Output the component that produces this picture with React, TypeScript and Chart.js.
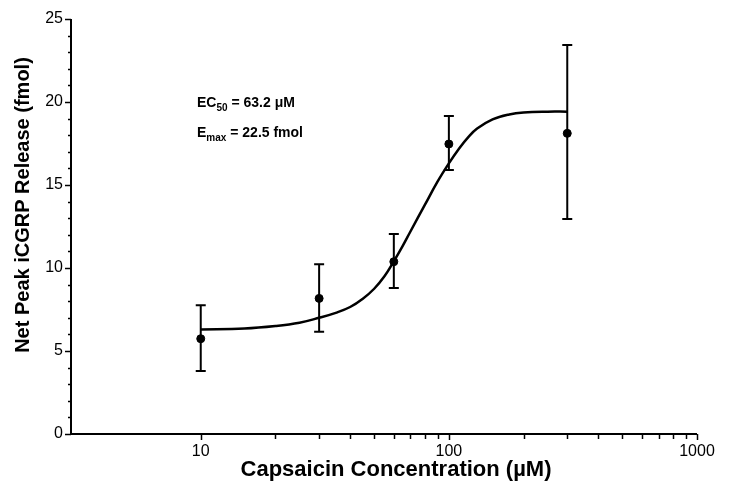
import React, { useEffect, useRef } from "react";
import { Chart, registerables } from "chart.js";

Chart.register(...registerables);

// Measured data (capsaicin concentration, µM)
const concentrations = [10, 30, 60, 100, 300];
const meanRelease = [5.74, 8.17, 10.38, 17.47, 18.11];
const upperError = [7.75, 10.22, 12.05, 19.16, 23.43];
const lowerError = [3.8, 6.16, 8.8, 15.9, 12.95];

// Fitted curve
const curveX = [10, 15, 20, 25, 30, 35, 40, 45, 50, 55, 60, 65, 70, 80, 90, 100, 110, 120, 130, 150, 175, 200, 250, 300];
const curveY = [6.3, 6.35, 6.5, 6.7, 7.0, 7.3, 7.65, 8.15, 8.75, 9.5, 10.4, 11.3, 12.2, 13.8, 15.2, 16.3, 17.2, 17.9, 18.4, 18.95, 19.25, 19.37, 19.42, 19.42];

const xMajorTicks = [10, 100, 1000];
const xMinorTicks = [20, 30, 40, 50, 60, 70, 80, 90, 200, 300, 400, 500, 600, 700, 800, 900];
const yMajorTicks = [0, 5, 10, 15, 20, 25];

const xTitle = "Capsaicin Concentration (\u00B5M)";
const yTitle = "Net Peak iCGRP Release (fmol)";

const FONT = '"Liberation Sans", Arial, Helvetica, sans-serif';

const drawPlugin = {
  id: "customDraw",
  beforeDatasetsDraw(chart: any) {
    const { ctx, scales } = chart;
    const x = scales.x;
    const y = scales.y;
    ctx.save();
    ctx.strokeStyle = "#000";
    ctx.lineWidth = 2;
    concentrations.forEach((c, i) => {
      const px = x.getPixelForValue(c);
      const top = y.getPixelForValue(upperError[i]);
      const bot = y.getPixelForValue(lowerError[i]);
      ctx.beginPath();
      ctx.moveTo(px, top);
      ctx.lineTo(px, bot);
      ctx.moveTo(px - 5, top);
      ctx.lineTo(px + 5, top);
      ctx.moveTo(px - 5, bot);
      ctx.lineTo(px + 5, bot);
      ctx.stroke();
    });
    ctx.restore();
  },
  afterDraw(chart: any) {
    const { ctx, chartArea: a, scales } = chart;
    const x = scales.x;
    const y = scales.y;
    ctx.save();
    ctx.strokeStyle = "#000";
    ctx.fillStyle = "#000";
    // axes
    ctx.lineWidth = 2;
    ctx.beginPath();
    ctx.moveTo(a.left, a.top);
    ctx.lineTo(a.left, a.bottom);
    ctx.lineTo(a.right, a.bottom);
    ctx.stroke();
    // y ticks
    ctx.lineWidth = 1.5;
    for (let v = 0; v <= 25; v++) {
      const py = Math.round(y.getPixelForValue(v)) + 0.5;
      const len = yMajorTicks.includes(v) ? 6 : 3;
      ctx.beginPath();
      ctx.moveTo(a.left, py);
      ctx.lineTo(a.left - len, py);
      ctx.stroke();
    }
    // x ticks
    const drawXTick = (v: number, len: number) => {
      const px = Math.round(x.getPixelForValue(v)) + 0.5;
      ctx.beginPath();
      ctx.moveTo(px, a.bottom);
      ctx.lineTo(px, a.bottom + len);
      ctx.stroke();
    };
    xMajorTicks.forEach((v) => drawXTick(v, 6));
    xMinorTicks.forEach((v) => drawXTick(v, 5));

    // axis titles
    ctx.textAlign = "center";
    ctx.textBaseline = "middle";
    ctx.font = "bold 22px " + FONT;
    ctx.fillText(xTitle, 396, 470);
    ctx.save();
    ctx.translate(23, 205);
    ctx.rotate(-Math.PI / 2);
    ctx.font = "bold 20px " + FONT;
    ctx.fillText(yTitle, 0, 0);
    ctx.restore();

    // annotation
    ctx.textAlign = "left";
    ctx.textBaseline = "alphabetic";
    let tx = 197;
    ctx.font = "bold 14px " + FONT;
    ctx.fillText("EC", tx, 107);
    tx += ctx.measureText("EC").width;
    ctx.font = "bold 10px " + FONT;
    ctx.fillText("50", tx, 111);
    tx += ctx.measureText("50").width;
    ctx.font = "bold 14px " + FONT;
    ctx.fillText(" = 63.2 \u03BCM", tx, 107);

    tx = 197;
    ctx.fillText("E", tx, 137);
    tx += ctx.measureText("E").width;
    ctx.font = "bold 10px " + FONT;
    ctx.fillText("max", tx, 141);
    tx += ctx.measureText("max").width;
    ctx.font = "bold 14px " + FONT;
    ctx.fillText(" = 22.5 fmol", tx, 137);
    ctx.restore();
  },
};

export default function App() {
  const canvasRef = useRef<HTMLCanvasElement | null>(null);

  useEffect(() => {
    if (!canvasRef.current) return;
    const chart = new Chart(canvasRef.current, {
      type: "scatter",
      data: {
        datasets: [
          {
            type: "line",
            data: curveX.map((v, i) => ({ x: v, y: curveY[i] })),
            borderColor: "#000",
            borderWidth: 2.5,
            pointRadius: 0,
            tension: 0.4,
            fill: false,
          } as any,
          {
            type: "scatter",
            data: concentrations.map((v, i) => ({ x: v, y: meanRelease[i] })),
            backgroundColor: "#000",
            borderColor: "#000",
            pointRadius: 4,
            pointHoverRadius: 4,
          },
        ],
      },
      options: {
        responsive: false,
        animation: false,
        events: [],
        layout: { padding: { left: 0, right: 32, top: 19, bottom: 0 } },
        plugins: { legend: { display: false }, tooltip: { enabled: false } },
        scales: {
          x: {
            type: "logarithmic",
            min: 3,
            max: 1000,
            grid: { display: false, drawTicks: false },
            border: { display: false },
            afterBuildTicks: (scale: any) => {
              scale.ticks = xMajorTicks.map((v) => ({ value: v }));
            },
            afterFit: (scale: any) => {
              scale.height = 67;
            },
            ticks: {
              autoSkip: false,
              maxRotation: 0,
              padding: 8,
              color: "#000",
              font: { family: FONT, size: 16 },
              callback: (v: any) => String(v),
            },
          },
          y: {
            min: 0,
            max: 25,
            grid: { display: false, drawTicks: false },
            border: { display: false },
            afterBuildTicks: (scale: any) => {
              scale.ticks = yMajorTicks.map((v) => ({ value: v }));
            },
            afterFit: (scale: any) => {
              scale.width = 71;
            },
            ticks: {
              padding: 8,
              color: "#000",
              font: { family: FONT, size: 16 },
              callback: (v: any) => String(v),
            },
          },
        },
      },
      plugins: [drawPlugin],
    });
    return () => chart.destroy();
  }, []);

  return (
    <div style={{ position: "absolute", left: 0, top: 0, width: 729, height: 501, background: "#fff" }}>
      <canvas ref={canvasRef} width={729} height={501} style={{ display: "block" }} />
    </div>
  );
}
